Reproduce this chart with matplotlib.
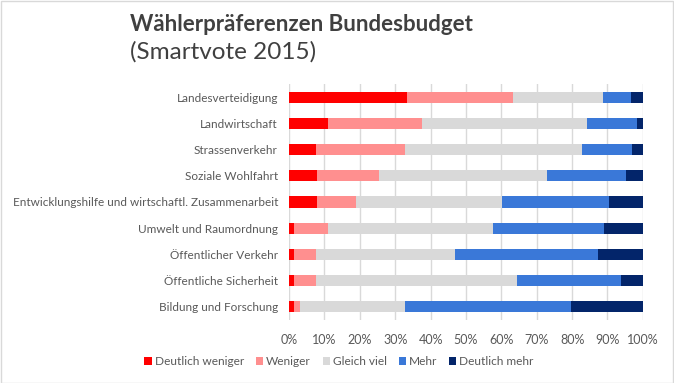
import matplotlib
matplotlib.use("Agg")
import matplotlib.pyplot as plt
import numpy as np

categories = ["Landesverteidigung", "Landwirtschaft", "Strassenverkehr", "Soziale Wohlfahrt",
              "Entwicklungshilfe und wirtschaftl. Zusammenarbeit", "Umwelt und Raumordnung",
              "Öffentlicher Verkehr", "Öffentliche Sicherheit", "Bildung und Forschung"]
series_names = ["Deutlich weniger", "Weniger", "Gleich viel", "Mehr", "Deutlich mehr"]
deutlich_weniger = [33.4, 11.0, 7.6, 7.9, 7.9, 1.4, 1.4, 1.4, 1.4]
weniger = [29.8, 26.6, 25.2, 17.5, 11.0, 9.6, 6.2, 6.2, 1.7]
gleich_viel = [25.6, 46.7, 50.0, 47.6, 41.3, 46.7, 39.3, 56.9, 29.7]
mehr = [7.9, 14.1, 14.2, 22.3, 30.3, 31.4, 40.5, 29.4, 46.9]
deutlich_mehr = [3.3, 1.6, 3.0, 4.7, 9.5, 10.9, 12.6, 6.1, 20.3]
xtick_labels = ["0%", "10%", "20%", "30%", "40%", "50%", "60%", "70%", "80%", "90%", "100%"]

colors = ["#FF0000", "#FF8F8F", "#D9D9D9", "#3A78D8", "#03256A"]
txt = "#595959"
plt.rcParams['font.family'] = ['Lato', 'DejaVu Sans']

fig = plt.figure(figsize=(6.74, 3.83), dpi=100)
ax = fig.add_axes([0.4288, 0.1645, 0.525, 0.6162])

data = [deutlich_weniger, weniger, gleich_viel, mehr, deutlich_mehr]
y = np.arange(len(categories))
left = np.zeros(len(categories))
for vals, name, c in zip(data, series_names, colors):
    vals = np.array(vals)
    ax.barh(y, vals, left=left, height=0.42, color=c, label=name, zorder=3)
    left += vals

ax.set_ylim(len(categories) - 0.5, -0.5)
ax.set_xlim(0, 100)
ax.set_xticks(np.arange(0, 101, 10))
ax.set_xticklabels(xtick_labels, fontsize=9, color=txt)
ax.set_yticks(y)
ax.set_yticklabels(categories, fontsize=8.5, color=txt)
ax.tick_params(length=0, pad=8)
ax.tick_params(axis='x', pad=10)
ax.grid(axis='x', color="#D9D9D9", linewidth=1, zorder=0)
for s in ax.spines.values():
    s.set_visible(False)

fig.text(0.193, 0.937, "Wählerpräferenzen Bundesbudget", fontsize=16, fontweight='bold',
         color="#404040", va='center', ha='left')
fig.text(0.193, 0.864, "(Smartvote 2015)", fontsize=17.5, color="#404040", va='center', ha='left')

leg = fig.legend(loc='center', bbox_to_anchor=(0.503, 0.055), ncol=5, frameon=False,
                 fontsize=8.6, handlelength=0.6, handleheight=0.6, handletextpad=0.25,
                 columnspacing=1.0, labelcolor=txt)

fig.patches.append(plt.Rectangle((0.001, 0.001), 0.997, 0.997, transform=fig.transFigure,
                                 fill=False, edgecolor="#D9D9D9", linewidth=1))
fig.savefig("out.png", dpi=100)
